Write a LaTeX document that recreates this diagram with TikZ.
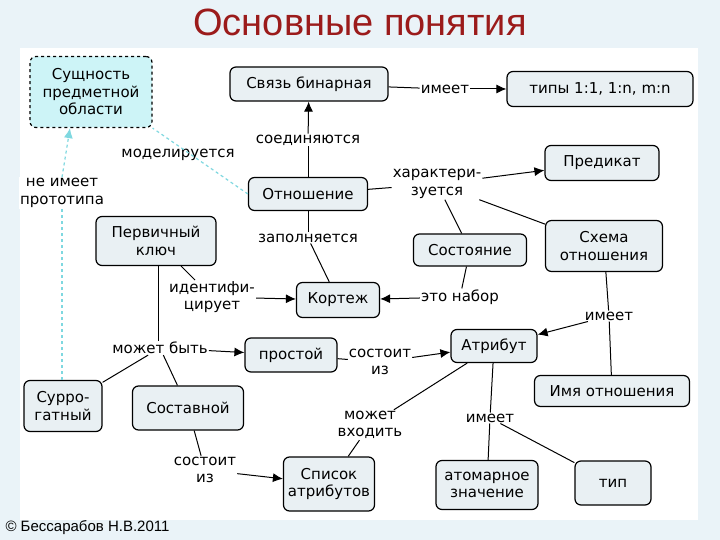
\documentclass[tikz,border=0pt]{standalone}
\usepackage{fontspec}
\setmainfont{DejaVu Sans}
\newfontfamily\titlefont{Liberation Sans}
\usetikzlibrary{arrows.meta}
\definecolor{bg}{HTML}{EAF3F8}
\definecolor{boxfill}{HTML}{E9F0F3}
\definecolor{cyanfill}{HTML}{CDF4F7}
\definecolor{cyanline}{HTML}{7FD8E0}
\definecolor{titlered}{HTML}{9B1B1B}
\tikzset{
 box/.style={draw=black, line width=1.2pt, rounded corners=6pt, fill=boxfill, align=center, font=\fontsize{15}{17.5}\selectfont, inner sep=2pt},
 lbl/.style={align=center, font=\fontsize{15}{17.5}\selectfont, inner sep=1pt, fill=white},
 ln/.style={draw=black, line width=1pt},
 arr/.style={ln, -{Latex[length=10pt,width=9pt]}},
 cln/.style={draw=cyanline, line width=1.2pt, dashed},
 carr/.style={cln, -{Latex[length=10pt,width=9pt]}},
}
\begin{document}
\begin{tikzpicture}[x=1pt,y=-1pt]
\path[fill=bg] (0,0) rectangle (720,540);
\path[fill=white] (20,48) rectangle (698,520);
\node[font=\titlefont\fontsize{38}{40}\selectfont, text=titlered] (title) at (360,22) {Основные понятия};
\node[font=\titlefont\fontsize{15}{17}\selectfont, anchor=west] (foot) at (2,528) {© Бессарабов Н.В.2011};

\node[box, dashed, fill=cyanfill, minimum width=122pt, minimum height=71pt] (sush) at (91,92) {Сущность\\предметной\\области};
\node[box, minimum width=158pt, minimum height=34pt] (svyaz) at (309,84) {Связь бинарная};
\node[box, minimum width=186pt, minimum height=35pt] (tipy) at (600,89) {типы 1:1, 1:n, m:n};
\node[box, minimum width=114pt, minimum height=35pt] (pred) at (602,163) {Предикат};
\node[box, minimum width=119pt, minimum height=33pt] (otn) at (308,194) {Отношение};
\node[box, minimum width=120pt, minimum height=49pt] (perv) at (156,241) {Первичный\\ключ};
\node[box, minimum width=113pt, minimum height=32pt] (sost) at (470,250) {Состояние};
\node[box, minimum width=117pt, minimum height=51pt] (schema) at (604,246) {Схема\\отношения};
\node[box, minimum width=83pt, minimum height=35pt] (kort) at (338,300) {Кортеж};
\node[box, minimum width=86pt, minimum height=33pt] (atr) at (494,346) {Атрибут};
\node[box, minimum width=92pt, minimum height=34pt] (prost) at (291,355) {простой};
\node[box, minimum width=155pt, minimum height=31pt] (imya) at (612,391) {Имя отношения};
\node[box, minimum width=78pt, minimum height=51pt] (surro) at (63,406) {Сурро-\\гатный};
\node[box, minimum width=111pt, minimum height=44pt] (sostav) at (188,408) {Составной};
\node[box, minimum width=91pt, minimum height=54pt] (spisok) at (329,484) {Список\\атрибутов};
\node[box, minimum width=102pt, minimum height=49pt] (atom) at (487,485) {атомарное\\значение};
\node[box, minimum width=76pt, minimum height=44pt] (tip) at (613,483) {тип};

% labels
\node[lbl] (l1) at (445,89) {имеет};
\node[lbl] (l2) at (308,140) {соединяются};
\node[lbl] (l3) at (178,155) {моделируется};
\node[lbl] (l4) at (62,193) {не имеет\\прототипа};
\node[lbl] (l5) at (437,184) {характери-\\зуется};
\node[lbl] (l6) at (308,238) {заполняется};
\node[lbl] (l7) at (212,297) {идентифи-\\цирует};
\node[lbl] (l8) at (460,297) {это набор};
\node[lbl] (l9) at (609,316) {имеет};
\node[lbl] (l10) at (160,348) {может быть};
\node[lbl] (l11) at (380,362) {состоит\\из};
\node[lbl] (l12) at (370,425) {может\\входить};
\node[lbl] (l13) at (490,418) {имеет};
\node[lbl] (l14) at (205,470) {состоит\\из};

% connectors
\draw[ln] (svyaz) -- (l1); \draw[arr] (l1) -- (tipy);
\draw[ln] (otn) -- (l2); \draw[arr] (l2) -- (svyaz);
\draw[cln] (otn.west) -- (sush.south east);
\draw[cln] (surro.north -| l4.south) -- (l4); \draw[carr] (l4.north) -- (sush.south -| 70,0);
\draw[ln] (otn) -- (l5); \draw[arr] (l5) -- (pred);
\draw[ln] (l5) -- (schema); \draw[ln] (sost) -- (l5);
\draw[ln] (otn) -- (l6); \draw[ln] (l6) -- (kort);
\draw[ln] (perv) -- (l7); \draw[arr] (l7) -- (kort);
\draw[ln] (sost) -- (l8); \draw[arr] (l8) -- (kort);
\draw[ln] (schema) -- (l9); \draw[arr] (l9) -- (atr); \draw[ln] (imya) -- (l9);
\draw[ln] (perv.south -| 158,0) -- (l10.north -| 158,0);
\draw[arr] (l10) -- (prost); \draw[ln] (l10) -- (surro); \draw[ln] (l10) -- (sostav);
\draw[ln] (prost) -- (l11); \draw[arr] (l11) -- (atr);
\draw[ln] (atr) -- (l12); \draw[ln] (l12) -- (spisok);
\draw[ln] (atr) -- (l13); \draw[ln] (l13) -- (atom); \draw[ln] (l13) -- (tip);
\draw[ln] (sostav) -- (l14); \draw[arr] (l14) -- (spisok);
\end{tikzpicture}
\end{document}
